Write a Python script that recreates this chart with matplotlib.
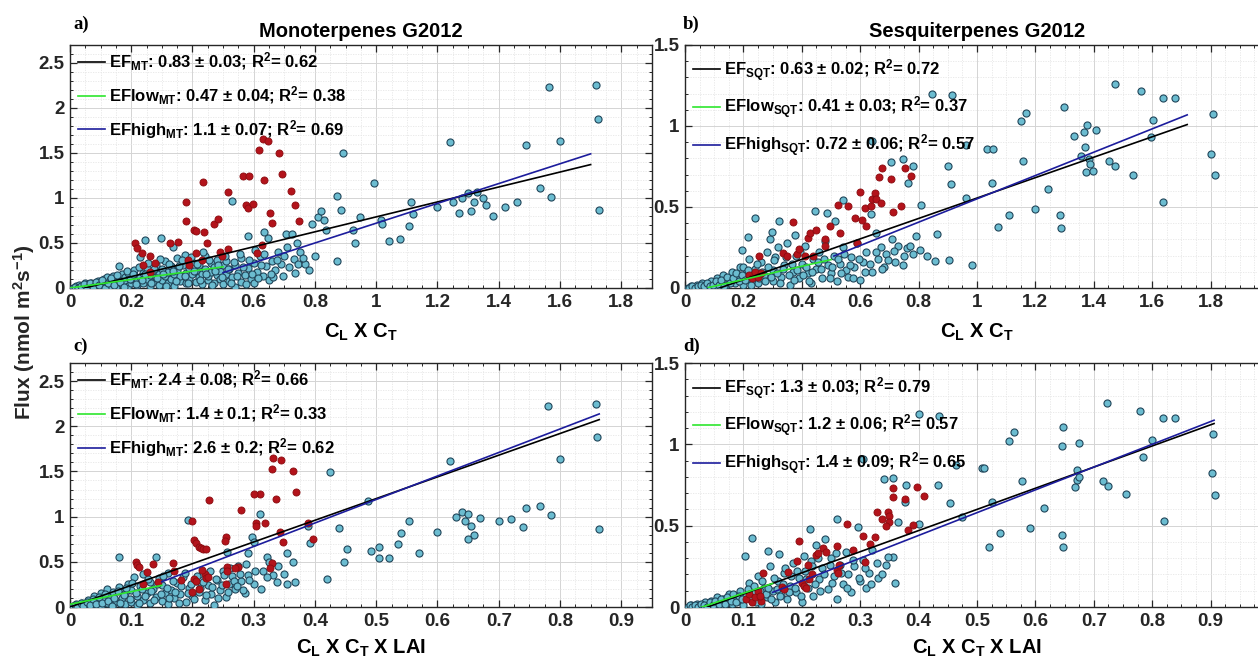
import numpy as np
import matplotlib
matplotlib.use('Agg')
import matplotlib.pyplot as plt
from matplotlib.ticker import MultipleLocator, FuncFormatter

plt.rcParams['font.family'] = ['Liberation Sans', 'DejaVu Sans']
plt.rcParams['font.weight'] = 'bold'
plt.rcParams['mathtext.fontset'] = 'custom'
plt.rcParams['mathtext.rm'] = 'Liberation Sans:bold'
plt.rcParams['mathtext.it'] = 'Liberation Sans:bold'
plt.rcParams['mathtext.bf'] = 'Liberation Sans:bold'

# --- data: (x, flux) pairs ---
# a) monoterpenes vs CL x CT
mt_ct_all = [
    (0.01, 0.00), (0.02, 0.02), (0.03, 0.01), (0.03, 0.03), (0.04, 0.00), (0.05, 0.02), (0.05, 0.05),
    (0.06, 0.01), (0.07, 0.03), (0.07, 0.06), (0.08, 0.02), (0.09, 0.04), (0.09, 0.08), (0.10, 0.01),
    (0.10, 0.05), (0.11, 0.10), (0.11, 0.03), (0.12, 0.07), (0.12, 0.12), (0.13, 0.02), (0.13, 0.09),
    (0.14, 0.05), (0.14, 0.13), (0.15, 0.08), (0.15, 0.01), (0.16, 0.11), (0.16, 0.24), (0.17, 0.04),
    (0.17, 0.15), (0.18, 0.08), (0.18, 0.12), (0.19, 0.02), (0.19, 0.17), (0.20, 0.06), (0.20, 0.10),
    (0.21, 0.14), (0.21, 0.20), (0.22, 0.03), (0.22, 0.08), (0.23, 0.12), (0.23, 0.34), (0.24, 0.17),
    (0.24, 0.05), (0.25, 0.22), (0.25, 0.10), (0.245, 0.53), (0.26, 0.14), (0.26, 0.02), (0.27, 0.19),
    (0.27, 0.07), (0.28, 0.12), (0.28, 0.25), (0.29, 0.03), (0.29, 0.16), (0.30, 0.09), (0.297, 0.55),
    (0.30, 0.21), (0.31, 0.13), (0.31, 0.30), (0.32, 0.05), (0.32, 0.18), (0.33, 0.10), (0.33, 0.24),
    (0.337, 0.46), (0.34, 0.15), (0.34, 0.02), (0.35, 0.20), (0.35, 0.33), (0.36, 0.08), (0.36, 0.13),
    (0.37, 0.26), (0.375, 0.37), (0.38, 0.17), (0.38, 0.05), (0.39, 0.22), (0.39, 0.11), (0.40, 0.29),
    (0.40, 0.15), (0.41, 0.07), (0.41, 0.19), (0.42, 0.12), (0.42, 0.25), (0.43, 0.04), (0.43, 0.16),
    (0.44, 0.21), (0.44, 0.36), (0.45, 0.09), (0.45, 0.13), (0.46, 0.18), (0.46, 0.28), (0.47, 0.06),
    (0.47, 0.23), (0.48, 0.14), (0.48, 0.31), (0.49, 0.10), (0.49, 0.19), (0.50, 0.25), (0.50, 0.04),
    (0.51, 0.15), (0.51, 0.30), (0.52, 0.08), (0.52, 0.21), (0.53, 0.97), (0.53, 0.12), (0.54, 0.01),
    (0.54, 0.26), (0.55, 0.17), (0.56, 0.07), (0.56, 0.33), (0.57, 0.14), (0.58, 0.58), (0.58, 0.22),
    (0.59, 0.10), (0.60, 0.28), (0.60, 0.05), (0.61, 0.18), (0.62, 0.35), (0.63, 0.13), (0.634, 0.625),
    (0.64, 0.24), (0.645, 0.55), (0.65, 0.09), (0.66, 0.30), (0.664, 0.125), (0.67, 0.20), (0.68, 0.40),
    (0.69, 0.27), (0.70, 0.35), (0.707, 0.60), (0.71, 0.45), (0.725, 0.60), (0.73, 0.32), (0.74, 0.50),
    (0.745, 0.27), (0.75, 0.40), (0.767, 0.27), (0.79, 0.71), (0.80, 0.356), (0.81, 0.785), (0.82, 0.86),
    (0.83, 0.76), (0.836, 0.64), (0.873, 1.02), (0.884, 0.87), (0.873, 0.30), (0.892, 1.50), (0.925, 0.64),
    (0.93, 0.50), (0.947, 0.785), (0.992, 1.17), (1.014, 0.755), (1.02, 0.71), (1.043, 0.525), (1.077, 0.54),
    (1.108, 0.69), (1.112, 0.95), (1.12, 0.82), (1.20, 0.90), (1.24, 1.62), (1.28, 1.00), (1.30, 1.05),
    (1.32, 0.95), (1.33, 1.07), (1.35, 1.00), (1.36, 0.92), (1.31, 0.86), (1.25, 0.95), (1.27, 0.83),
    (1.38, 0.80), (1.42, 0.90), (1.46, 0.95), (1.49, 1.59), (1.534, 1.11), (1.565, 2.23), (1.57, 1.01),
    (1.60, 1.63), (1.717, 2.26), (1.725, 1.88), (1.728, 0.87),
    (0.015, 0.01), (0.025, 0.00), (0.035, 0.02), (0.045, 0.04), (0.055, 0.00), (0.065, 0.05), (0.075, 0.01),
    (0.085, 0.07), (0.095, 0.03), (0.105, 0.09), (0.115, 0.00), (0.125, 0.05), (0.135, 0.11), (0.145, 0.03),
    (0.155, 0.14), (0.165, 0.07), (0.175, 0.01), (0.185, 0.19), (0.195, 0.10), (0.205, 0.16), (0.215, 0.04),
    (0.225, 0.23), (0.235, 0.09), (0.245, 0.15), (0.255, 0.28), (0.265, 0.06), (0.275, 0.21), (0.285, 0.11),
    (0.295, 0.32), (0.305, 0.15), (0.315, 0.02), (0.325, 0.27), (0.335, 0.19), (0.345, 0.08), (0.355, 0.24),
    (0.365, 0.31), (0.375, 0.13), (0.385, 0.06), (0.395, 0.34), (0.405, 0.19), (0.415, 0.27), (0.425, 0.09),
    (0.435, 0.40), (0.445, 0.16), (0.455, 0.31), (0.465, 0.03), (0.475, 0.19), (0.485, 0.26), (0.495, 0.12),
    (0.505, 0.35), (0.515, 0.21), (0.525, 0.06), (0.535, 0.29), (0.545, 0.13), (0.555, 0.38), (0.565, 0.23),
    (0.575, 0.04), (0.585, 0.31), (0.595, 0.16), (0.605, 0.42), (0.615, 0.11), (0.625, 0.26), (0.635, 0.38),
    (0.655, 0.16), (0.675, 0.31), (0.695, 0.13), (0.715, 0.23), (0.735, 0.17), (0.76, 0.33), (0.78, 0.20),
]
mt_ct_high = [
    (0.212, 0.50), (0.22, 0.44), (0.234, 0.385), (0.263, 0.356), (0.237, 0.256), (0.277, 0.274),
    (0.261, 0.18), (0.326, 0.50), (0.354, 0.51), (0.379, 0.96), (0.379, 0.74), (0.386, 0.31),
    (0.39, 0.26), (0.405, 0.64), (0.413, 0.63), (0.437, 0.62), (0.435, 1.18), (0.413, 0.385),
    (0.43, 0.31), (0.446, 0.50), (0.47, 0.71), (0.484, 0.77), (0.49, 0.40), (0.495, 0.356),
    (0.517, 1.07), (0.517, 0.43), (0.564, 1.24), (0.584, 1.24), (0.575, 0.92), (0.582, 0.885),
    (0.598, 0.93), (0.61, 0.385), (0.626, 0.48), (0.618, 1.53), (0.634, 1.20), (0.631, 1.65),
    (0.647, 1.63), (0.653, 0.83), (0.66, 0.72), (0.683, 1.50), (0.691, 1.27), (0.722, 1.08),
    (0.735, 0.92), (0.749, 0.74),
]

# b) sesquiterpenes vs CL x CT
sqt_ct_all = [
    (0.01, 0.00), (0.02, 0.01), (0.03, 0.00), (0.04, 0.02), (0.05, 0.01), (0.06, 0.03), (0.07, 0.00),
    (0.08, 0.02), (0.09, 0.04), (0.10, 0.01), (0.11, 0.06), (0.12, 0.03), (0.13, 0.08), (0.14, 0.02),
    (0.15, 0.05), (0.16, 0.10), (0.17, 0.03), (0.18, 0.07), (0.19, 0.13), (0.194, 0.236), (0.20, 0.02),
    (0.20, 0.13), (0.21, 0.09), (0.217, 0.313), (0.22, 0.18), (0.23, 0.05), (0.24, 0.43), (0.24, 0.12),
    (0.25, 0.03), (0.26, 0.16), (0.27, 0.08), (0.28, 0.22), (0.29, 0.30), (0.297, 0.344), (0.30, 0.11),
    (0.30, 0.04), (0.31, 0.19), (0.32, 0.25), (0.323, 0.413), (0.33, 0.07), (0.34, 0.14), (0.35, 0.28),
    (0.36, 0.02), (0.37, 0.10), (0.377, 0.33), (0.38, 0.20), (0.39, 0.06), (0.40, 0.15), (0.41, 0.26),
    (0.42, 0.09), (0.43, 0.03), (0.44, 0.18), (0.445, 0.475), (0.45, 0.12), (0.46, 0.22), (0.47, 0.06),
    (0.48, 0.29), (0.485, 0.465), (0.49, 0.14), (0.50, 0.09), (0.51, 0.20), (0.514, 0.413), (0.52, 0.04),
    (0.53, 0.15), (0.54, 0.543), (0.54, 0.25), (0.55, 0.11), (0.56, 0.07), (0.57, 0.19), (0.58, 0.13),
    (0.59, 0.28), (0.60, 0.05), (0.61, 0.16), (0.62, 0.22), (0.637, 0.459), (0.64, 0.91), (0.64, 0.10),
    (0.654, 0.34), (0.66, 0.18), (0.67, 0.25), (0.68, 0.13), (0.69, 0.21), (0.705, 0.78), (0.71, 0.30),
    (0.72, 0.16), (0.73, 0.26), (0.748, 0.797), (0.75, 0.20), (0.76, 0.247), (0.765, 0.65), (0.77, 0.26),
    (0.782, 0.755), (0.79, 0.32), (0.805, 0.232), (0.807, 0.51), (0.83, 0.20), (0.845, 1.20),
    (0.856, 0.168), (0.862, 0.336), (0.90, 0.755), (0.904, 0.174), (0.911, 0.643), (0.913, 1.19),
    (0.962, 0.88), (0.961, 0.556), (0.982, 0.143), (1.033, 0.859), (1.055, 0.859), (1.05, 0.65),
    (1.073, 0.375), (1.111, 0.452), (1.151, 1.03), (1.167, 1.08), (1.156, 0.784), (1.2, 0.487),
    (1.245, 0.61), (1.297, 1.118), (1.284, 0.448), (1.289, 0.373), (1.332, 0.94), (1.367, 0.96),
    (1.378, 1.008), (1.406, 0.975), (1.369, 0.873), (1.358, 0.817), (1.384, 0.797), (1.387, 0.765),
    (1.374, 0.714), (1.396, 0.724), (1.451, 0.782), (1.472, 0.751), (1.473, 1.261), (1.562, 1.218),
    (1.604, 1.035), (1.596, 0.929), (1.533, 0.699), (1.638, 1.172), (1.678, 1.17), (1.636, 0.533),
    (1.81, 1.072), (1.8, 0.828), (1.815, 0.697),
    (0.015, 0.00), (0.025, 0.01), (0.035, 0.00), (0.045, 0.01), (0.055, 0.02), (0.065, 0.01), (0.075, 0.03),
    (0.085, 0.01), (0.095, 0.02), (0.105, 0.04), (0.115, 0.02), (0.125, 0.05), (0.135, 0.01), (0.145, 0.07),
    (0.155, 0.03), (0.165, 0.06), (0.175, 0.09), (0.185, 0.04), (0.195, 0.08), (0.205, 0.05), (0.215, 0.11),
    (0.225, 0.02), (0.235, 0.08), (0.245, 0.15), (0.255, 0.06), (0.265, 0.10), (0.275, 0.04), (0.285, 0.13),
    (0.295, 0.07), (0.305, 0.17), (0.315, 0.09), (0.325, 0.03), (0.335, 0.12), (0.345, 0.19), (0.355, 0.08),
    (0.365, 0.15), (0.375, 0.05), (0.385, 0.11), (0.395, 0.22), (0.405, 0.08), (0.415, 0.13), (0.425, 0.04),
    (0.435, 0.10), (0.455, 0.16), (0.465, 0.12), (0.475, 0.18), (0.495, 0.06), (0.505, 0.13), (0.525, 0.18),
    (0.535, 0.09), (0.545, 0.21), (0.565, 0.14), (0.575, 0.06), (0.595, 0.18), (0.615, 0.10), (0.635, 0.15),
    (0.655, 0.22), (0.675, 0.12), (0.695, 0.17), (0.715, 0.23), (0.745, 0.14), (0.78, 0.21),
]
sqt_ct_high = [
    (0.254, 0.20), (0.22, 0.08), (0.23, 0.06), (0.24, 0.10), (0.25, 0.07), (0.26, 0.09),
    (0.337, 0.216), (0.371, 0.406), (0.35, 0.20), (0.385, 0.21), (0.39, 0.24), (0.41, 0.195),
    (0.422, 0.31), (0.428, 0.34), (0.449, 0.36), (0.44, 0.20), (0.479, 0.30), (0.48, 0.26),
    (0.497, 0.38), (0.523, 0.51), (0.53, 0.34), (0.56, 0.506), (0.582, 0.434), (0.605, 0.42),
    (0.599, 0.59), (0.616, 0.496), (0.62, 0.38), (0.59, 0.278), (0.636, 0.506), (0.642, 0.548),
    (0.65, 0.585), (0.655, 0.55), (0.67, 0.523), (0.666, 0.683), (0.674, 0.74), (0.705, 0.672),
    (0.714, 0.47), (0.74, 0.506), (0.755, 0.74), (0.773, 0.69),
]

# c) monoterpenes vs CL x CT x LAI
mt_lai_all = [
    (0.005, 0.01), (0.01, 0.03), (0.015, 0.00), (0.02, 0.05), (0.025, 0.02), (0.03, 0.08), (0.03, 0.00),
    (0.035, 0.04), (0.04, 0.12), (0.04, 0.02), (0.045, 0.06), (0.05, 0.15), (0.05, 0.01), (0.055, 0.09),
    (0.06, 0.04), (0.06, 0.20), (0.065, 0.12), (0.07, 0.02), (0.07, 0.17), (0.075, 0.07), (0.08, 0.55),
    (0.08, 0.22), (0.085, 0.10), (0.09, 0.03), (0.09, 0.15), (0.095, 0.25), (0.10, 0.06), (0.10, 0.19),
    (0.105, 0.33), (0.11, 0.12), (0.11, 0.02), (0.115, 0.23), (0.12, 0.08), (0.12, 0.36), (0.125, 0.16),
    (0.13, 0.28), (0.13, 0.04), (0.135, 0.20), (0.14, 0.11), (0.141, 0.556), (0.145, 0.32), (0.15, 0.07),
    (0.15, 0.24), (0.155, 0.15), (0.16, 0.38), (0.16, 0.03), (0.165, 0.19), (0.17, 0.10), (0.175, 0.27),
    (0.18, 0.14), (0.185, 0.33), (0.19, 0.06), (0.193, 0.962), (0.195, 0.21), (0.20, 0.12), (0.205, 0.29),
    (0.21, 0.17), (0.215, 0.36), (0.22, 0.08), (0.225, 0.24), (0.23, 0.14), (0.235, 0.02), (0.24, 0.30),
    (0.245, 0.19), (0.25, 0.40), (0.255, 0.11), (0.256, 0.61), (0.26, 0.26), (0.265, 0.34), (0.27, 0.20),
    (0.275, 0.45), (0.28, 0.29), (0.285, 0.15), (0.29, 0.60), (0.29, 0.35), (0.298, 0.78), (0.30, 0.72),
    (0.30, 0.25), (0.31, 1.03), (0.315, 0.40), (0.321, 0.556), (0.325, 0.50), (0.332, 0.354), (0.34, 0.45),
    (0.354, 0.594), (0.354, 0.26), (0.364, 0.50), (0.367, 0.28), (0.389, 0.896), (0.392, 0.71),
    (0.419, 0.31), (0.424, 1.497), (0.44, 0.87), (0.447, 0.494), (0.453, 0.642), (0.487, 1.176),
    (0.491, 0.616), (0.505, 0.667), (0.505, 0.54), (0.521, 0.545), (0.535, 0.697), (0.541, 0.815),
    (0.554, 0.955), (0.569, 0.594), (0.60, 0.83), (0.62, 1.62), (0.63, 1.00), (0.64, 1.05), (0.645, 0.95),
    (0.65, 1.03), (0.655, 0.90), (0.66, 0.80), (0.65, 0.75), (0.67, 0.98), (0.70, 0.95), (0.72, 0.97),
    (0.745, 1.10), (0.74, 0.88), (0.767, 1.117), (0.781, 2.22), (0.786, 1.014), (0.80, 1.634),
    (0.859, 2.25), (0.861, 1.877), (0.863, 0.866),
    (0.008, 0.02), (0.012, 0.00), (0.018, 0.04), (0.022, 0.01), (0.028, 0.06), (0.032, 0.02), (0.038, 0.09),
    (0.042, 0.03), (0.048, 0.11), (0.052, 0.05), (0.058, 0.14), (0.062, 0.07), (0.068, 0.01), (0.072, 0.10),
    (0.078, 0.18), (0.082, 0.05), (0.088, 0.13), (0.092, 0.21), (0.098, 0.09), (0.102, 0.27), (0.108, 0.16),
    (0.112, 0.05), (0.118, 0.20), (0.122, 0.12), (0.128, 0.31), (0.132, 0.18), (0.138, 0.08), (0.142, 0.25),
    (0.148, 0.14), (0.152, 0.34), (0.158, 0.21), (0.162, 0.10), (0.168, 0.29), (0.172, 0.17), (0.178, 0.05),
    (0.182, 0.23), (0.188, 0.38), (0.192, 0.15), (0.198, 0.26), (0.202, 0.09), (0.208, 0.34), (0.212, 0.21),
    (0.218, 0.28), (0.222, 0.13), (0.228, 0.40), (0.232, 0.22), (0.238, 0.31), (0.242, 0.10), (0.248, 0.24),
    (0.252, 0.35), (0.258, 0.17), (0.262, 0.43), (0.268, 0.29), (0.272, 0.23), (0.278, 0.36), (0.282, 0.19),
    (0.288, 0.48), (0.292, 0.30), (0.302, 0.40), (0.312, 0.20), (0.322, 0.33), (0.338, 0.28), (0.35, 0.36),
]
mt_lai_high = [
    (0.332, 1.645), (0.345, 1.63), (0.33, 1.53), (0.364, 1.50), (0.369, 1.27), (0.337, 1.19),
    (0.31, 1.25), (0.30, 1.25), (0.227, 1.18), (0.28, 1.07), (0.2, 0.955),
    (0.304, 0.926), (0.304, 0.90), (0.318, 0.93), (0.343, 0.833), (0.348, 0.72), (0.389, 0.926),
    (0.396, 0.75), (0.203, 0.74), (0.206, 0.71), (0.21, 0.66), (0.214, 0.65), (0.218, 0.64),
    (0.222, 0.64), (0.254, 0.77), (0.253, 0.73), (0.33, 0.483), (0.327, 0.43), (0.275, 0.446),
    (0.169, 0.483), (0.135, 0.476), (0.108, 0.50), (0.11, 0.47), (0.112, 0.44), (0.126, 0.39),
    (0.12, 0.26), (0.143, 0.28), (0.17, 0.40), (0.182, 0.30), (0.199, 0.17), (0.203, 0.31),
    (0.206, 0.29), (0.21, 0.20), (0.22, 0.37), (0.222, 0.32), (0.226, 0.33), (0.216, 0.41),
    (0.256, 0.446), (0.257, 0.40), (0.255, 0.25), (0.27, 0.43),
]

# d) sesquiterpenes vs CL x CT x LAI
sqt_lai_all = [
    (0.005, 0.00), (0.01, 0.01), (0.015, 0.00), (0.02, 0.02), (0.025, 0.01), (0.03, 0.00), (0.035, 0.03),
    (0.04, 0.01), (0.045, 0.04), (0.05, 0.02), (0.055, 0.06), (0.06, 0.01), (0.065, 0.05), (0.07, 0.03),
    (0.075, 0.08), (0.08, 0.02), (0.085, 0.06), (0.09, 0.04), (0.095, 0.10), (0.10, 0.01), (0.103, 0.313),
    (0.105, 0.07), (0.11, 0.15), (0.114, 0.426), (0.115, 0.04), (0.12, 0.09), (0.125, 0.19), (0.13, 0.02),
    (0.135, 0.12), (0.14, 0.06), (0.143, 0.346), (0.145, 0.25), (0.15, 0.10), (0.155, 0.03), (0.16, 0.16),
    (0.161, 0.326), (0.165, 0.08), (0.17, 0.21), (0.175, 0.05), (0.18, 0.13), (0.185, 0.27), (0.19, 0.09),
    (0.195, 0.18), (0.20, 0.03), (0.204, 0.315), (0.205, 0.22), (0.21, 0.12), (0.214, 0.478), (0.215, 0.28),
    (0.22, 0.07), (0.225, 0.38), (0.23, 0.17), (0.235, 0.24), (0.24, 0.42), (0.245, 0.11), (0.25, 0.30),
    (0.255, 0.19), (0.26, 0.539), (0.26, 0.05), (0.265, 0.26), (0.27, 0.14), (0.275, 0.34), (0.28, 0.20),
    (0.285, 0.09), (0.29, 0.25), (0.297, 0.494), (0.30, 0.16), (0.305, 0.29), (0.305, 0.908), (0.31, 0.12),
    (0.315, 0.21), (0.32, 0.35), (0.33, 0.18), (0.341, 0.785), (0.345, 0.26), (0.357, 0.791), (0.357, 0.309),
    (0.36, 0.15), (0.365, 0.52), (0.376, 0.644), (0.378, 0.75), (0.401, 1.186), (0.401, 0.51), (0.434, 0.75),
    (0.435, 1.174), (0.454, 0.641), (0.464, 0.873), (0.474, 0.555), (0.508, 0.853), (0.512, 0.855),
    (0.521, 0.371), (0.525, 0.647), (0.539, 0.453), (0.555, 1.022), (0.563, 1.074), (0.577, 0.774),
    (0.591, 0.484), (0.614, 0.607), (0.648, 1.108), (0.646, 0.99), (0.645, 0.443), (0.647, 0.37),
    (0.671, 0.842), (0.672, 0.78), (0.668, 0.74), (0.675, 0.80), (0.675, 1.006), (0.722, 1.252),
    (0.779, 1.207), (0.818, 1.164), (0.839, 1.16), (0.80, 1.026), (0.784, 0.924), (0.715, 0.776),
    (0.725, 0.746), (0.755, 0.695), (0.82, 0.53), (0.905, 1.063), (0.902, 0.822), (0.908, 0.69),
    (0.008, 0.01), (0.012, 0.00), (0.018, 0.01), (0.022, 0.00), (0.028, 0.02), (0.032, 0.01), (0.038, 0.00),
    (0.042, 0.03), (0.048, 0.01), (0.052, 0.04), (0.058, 0.02), (0.062, 0.05), (0.068, 0.02), (0.072, 0.06),
    (0.078, 0.04), (0.082, 0.08), (0.088, 0.03), (0.092, 0.07), (0.098, 0.05), (0.108, 0.11), (0.112, 0.06),
    (0.118, 0.13), (0.122, 0.03), (0.128, 0.10), (0.132, 0.16), (0.138, 0.08), (0.142, 0.12), (0.148, 0.05),
    (0.152, 0.18), (0.158, 0.11), (0.162, 0.07), (0.168, 0.14), (0.172, 0.24), (0.178, 0.09), (0.182, 0.19),
    (0.188, 0.12), (0.192, 0.22), (0.198, 0.07), (0.208, 0.17), (0.218, 0.25), (0.222, 0.14), (0.228, 0.30),
    (0.232, 0.10), (0.238, 0.20), (0.248, 0.26), (0.252, 0.15), (0.258, 0.33), (0.268, 0.21), (0.278, 0.12),
    (0.288, 0.29), (0.298, 0.18), (0.308, 0.24), (0.318, 0.14), (0.328, 0.27), (0.338, 0.20), (0.348, 0.31),
]
sqt_lai_high = [
    (0.134, 0.207), (0.105, 0.05), (0.11, 0.08), (0.115, 0.03), (0.12, 0.06), (0.125, 0.10),
    (0.13, 0.04), (0.128, 0.07), (0.166, 0.125), (0.17, 0.11), (0.177, 0.217), (0.191, 0.285),
    (0.196, 0.406), (0.2, 0.15), (0.203, 0.13), (0.208, 0.12), (0.211, 0.258), (0.212, 0.17),
    (0.218, 0.20), (0.225, 0.32), (0.228, 0.33), (0.237, 0.36), (0.242, 0.34), (0.26, 0.375),
    (0.26, 0.23), (0.262, 0.21), (0.264, 0.26), (0.277, 0.51), (0.287, 0.35), (0.305, 0.436),
    (0.308, 0.275), (0.316, 0.39), (0.325, 0.428), (0.328, 0.582), (0.338, 0.541), (0.347, 0.586),
    (0.349, 0.56), (0.35, 0.52), (0.344, 0.498), (0.356, 0.733), (0.357, 0.678), (0.377, 0.664),
    (0.382, 0.473), (0.391, 0.504), (0.398, 0.736), (0.409, 0.684),
]

# fitted lines: (slope, intercept, x start, x end) for EF, EFlow, EFhigh
fits_a = [(0.83, -0.04, 0.05, 1.70), (0.47, 0.0, 0.0, 0.50), (1.10, -0.38, 0.50, 1.70)]
fits_b = [(0.63, -0.075, 0.08, 1.72), (0.41, -0.03, 0.08, 0.50), (0.72, -0.17, 0.51, 1.72)]
fits_c = [(2.4, 0.0, 0.0, 0.864), (1.4, 0.03, 0.0, 0.15), (2.6, -0.11, 0.15, 0.864)]
fits_d = [(1.3, -0.05, 0.02, 0.906), (1.2, -0.035, 0.02, 0.15), (1.4, -0.12, 0.15, 0.906)]

labels_a = [r'EF$_{MT}$: 0.83 ± 0.03; R$^{2}$= 0.62', r'EFlow$_{MT}$: 0.47 ± 0.04; R$^{2}$= 0.38',
            r'EFhigh$_{MT}$: 1.1 ± 0.07; R$^{2}$= 0.69']
labels_b = [r'EF$_{SQT}$: 0.63 ± 0.02; R$^{2}$= 0.72', r'EFlow$_{SQT}$: 0.41 ± 0.03; R$^{2}$= 0.37',
            r'EFhigh$_{SQT}$: 0.72 ± 0.06; R$^{2}$= 0.57']
labels_c = [r'EF$_{MT}$: 2.4 ± 0.08; R$^{2}$= 0.66', r'EFlow$_{MT}$: 1.4 ± 0.1; R$^{2}$= 0.33',
            r'EFhigh$_{MT}$: 2.6 ± 0.2; R$^{2}$= 0.62']
labels_d = [r'EF$_{SQT}$: 1.3 ± 0.03; R$^{2}$= 0.79', r'EFlow$_{SQT}$: 1.2 ± 0.06; R$^{2}$= 0.57',
            r'EFhigh$_{SQT}$: 1.4 ± 0.09; R$^{2}$= 0.65']

line_colors = ['black', '#2ee62e', '#1c1c9c']
axis_col = '#262626'

fig = plt.figure(figsize=(12.58, 6.64), dpi=100)


def panel(rect, pts_all, pts_high, fits, labels, xlim, ylim, xmaj, xmin, ymaj, ymin, leg_top, xlab_max):
    ax = fig.add_axes(rect)
    pa = np.array(pts_all)
    ph = np.array(pts_high)
    ax.scatter(pa[:, 0], pa[:, 1], s=26, c='#6bbcd0', edgecolors='#21465a', linewidths=0.8, zorder=3)
    ax.scatter(ph[:, 0], ph[:, 1], s=26, c='#b3131b', edgecolors='#8a0c10', linewidths=0.6, zorder=4)
    handles = []
    for (m, b, x0, x1), col in zip(fits, line_colors):
        xx = np.array([x0, x1])
        h, = ax.plot(xx, m * xx + b, color=col, lw=1.2, zorder=5)
        handles.append(h)
    ax.legend(handles, labels, loc='upper left', bbox_to_anchor=(0.014, leg_top), frameon=False,
              fontsize=12, handlelength=1.6, handletextpad=0.25, labelspacing=0.67,
              borderaxespad=0, borderpad=0)
    ax.set_xlim(xlim)
    ax.set_ylim(ylim)
    ax.xaxis.set_major_locator(MultipleLocator(xmaj))
    ax.xaxis.set_minor_locator(MultipleLocator(xmin))
    ax.yaxis.set_major_locator(MultipleLocator(ymaj))
    ax.yaxis.set_minor_locator(MultipleLocator(ymin))
    # labels beyond the cropped right edge are not shown
    xfmt = FuncFormatter(lambda v, p: '' if v > xlab_max + 1e-9 else (f'{v:.10g}' if abs(v) > 1e-9 else '0'))
    yfmt = FuncFormatter(lambda v, p: f'{v:.10g}' if abs(v) > 1e-9 else '0')
    ax.xaxis.set_major_formatter(xfmt)
    ax.yaxis.set_major_formatter(yfmt)
    ax.grid(which='major', color='#d4d4d4', lw=0.7, zorder=0)
    ax.grid(which='minor', color='#e6e6e6', lw=0.6, ls=(0, (1.5, 1.5)), zorder=0)
    ax.set_axisbelow(True)
    ax.tick_params(which='both', direction='in', top=True, right=True, color=axis_col,
                   labelcolor=axis_col, labelsize=13.5, pad=4)
    ax.tick_params(which='major', length=5, width=0.9)
    ax.tick_params(which='minor', length=2.5, width=0.7)
    for t in ax.get_xticklabels() + ax.get_yticklabels():
        t.set_fontweight('bold')
    for sp in ax.spines.values():
        sp.set_color(axis_col)
        sp.set_linewidth(1.0)
    return ax


ax_a = panel([0.0556, 0.5663, 0.4626, 0.366], mt_ct_all, mt_ct_high, fits_a, labels_a,
             (0, 1.9), (0, 2.7), 0.2, 0.05, 0.5, 0.1, 0.975, 1.8)
ax_b = panel([0.5445, 0.5663, 0.4642, 0.366], sqt_ct_all, sqt_ct_high, fits_b, labels_b,
             (0, 2.0), (0, 1.5), 0.2, 0.05, 0.5, 0.1, 0.95, 1.8)
ax_c = panel([0.0556, 0.0858, 0.4626, 0.3675], mt_lai_all, mt_lai_high, fits_c, labels_c,
             (0, 0.95), (0, 2.7), 0.1, 0.025, 0.5, 0.1, 0.975, 0.9)
ax_d = panel([0.5445, 0.0858, 0.4642, 0.3675], sqt_lai_all, sqt_lai_high, fits_d, labels_d,
             (0, 1.0), (0, 1.5), 0.1, 0.025, 0.5, 0.1, 0.95, 0.9)

ax_a.set_title('Monoterpenes G2012', fontsize=14.5, fontweight='bold', pad=6)
ax_b.set_title('Sesquiterpenes G2012', fontsize=14.5, fontweight='bold', pad=6)
for ax in (ax_a, ax_b):
    ax.set_xlabel(r'C$_{L}$ X C$_{T}$', fontsize=14.5, fontweight='bold', labelpad=8)
for ax in (ax_c, ax_d):
    ax.set_xlabel(r'C$_{L}$ X C$_{T}$ X LAI', fontsize=14.5, fontweight='bold', labelpad=6)

fig.text(0.019, 0.50, r'Flux (nmol m$^{2}$s$^{-1}$)', rotation=90, ha='center', va='center',
         fontsize=15, fontweight='bold', color=axis_col)

for s, (x, y) in zip(['a)', 'b)', 'c)', 'd)'], [(0.058, 0.964), (0.543, 0.964), (0.058, 0.478), (0.543, 0.478)]):
    fig.text(x, y, s, family='Liberation Serif', fontweight='bold', fontsize=13.5, va='center')

fig.savefig('out.png', dpi=100)
